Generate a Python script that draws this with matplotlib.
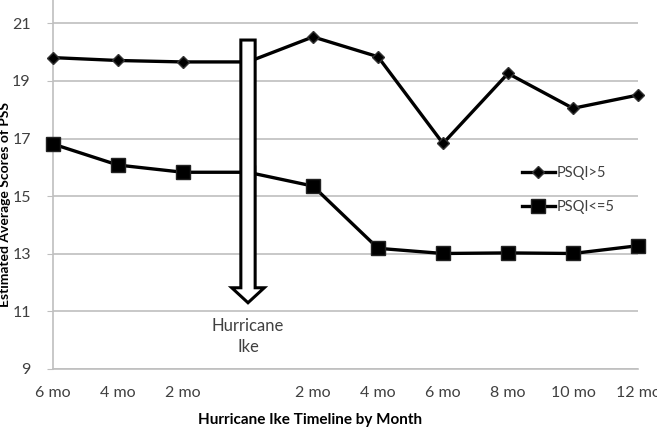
import matplotlib.pyplot as plt
import matplotlib.patches as mpatches
import numpy as np

plt.rcParams['font.family'] = ['Lato', 'DejaVu Sans']

# timeline categories (blank slot = hurricane landfall)
months = ["6 mo", "4 mo", "2 mo", "", "2 mo", "4 mo", "6 mo", "8 mo", "10 mo", "12 mo"]
psqi_high = [19.81, 19.71, 19.66, 19.66, 20.53, 19.84, 16.83, 19.26, 18.05, 18.51]
psqi_low = [16.81, 16.08, 15.83, 15.83, 15.35, 13.19, 13.01, 13.03, 13.01, 13.28]
yticks = [9, 11, 13, 15, 17, 19, 21]

grid_col = "#bfbfbf"
text_col = "#404040"

fig = plt.figure(figsize=(6.57, 4.32), dpi=100)
ax = fig.add_axes([53 / 657, 1 - 369 / 432, 585 / 657, 369 / 432])

x = np.arange(len(months))
ax.plot(x, psqi_high, color="black", lw=2.4, marker="D", markersize=6.5,
        markeredgecolor="#333333", label="PSQI>5", zorder=3, clip_on=False)
ax.plot(x, psqi_low, color="black", lw=2.4, marker="s", markersize=10,
        markeredgecolor="#222222", label="PSQI<=5", zorder=3, clip_on=False)

# big hollow arrow marking the hurricane
arrow = mpatches.FancyArrow(3, 20.42, 0, -9.12, width=0.22, head_width=0.5,
                            head_length=0.52, length_includes_head=True,
                            facecolor="white", edgecolor="black", lw=2.2, zorder=5)
ax.add_patch(arrow)
ax.text(3, 10.12, "Hurricane\nIke", ha="center", va="center", fontsize=12,
        color=text_col, linespacing=1.35)

ax.set_xlim(0, 9)
ax.set_ylim(9, 21.81)
ax.set_xticks(x)
ax.set_xticklabels(months, fontsize=11.5, color=text_col)
ax.set_yticks(yticks)
ax.set_yticklabels([str(v) for v in yticks], fontsize=11.5, color=text_col)
ax.tick_params(axis="x", length=0, pad=12)
ax.tick_params(axis="y", length=4, color=grid_col, pad=12)
ax.grid(axis="y", color=grid_col, lw=1.2)
ax.set_axisbelow(True)
for s in ["top", "right"]:
    ax.spines[s].set_visible(False)
for s in ["left", "bottom"]:
    ax.spines[s].set_color(grid_col)
    ax.spines[s].set_linewidth(1.2)

ax.set_ylabel("Estimated Average Scores of PSS", fontsize=10, fontweight="bold",
              color="black")
ax.yaxis.set_label_coords(-0.071, 0.447)
ax.set_xlabel("Hurricane Ike Timeline by Month", fontsize=11, fontweight="bold",
              color="black")
ax.xaxis.set_label_coords(0.44, -0.12)

ax.legend(loc="upper left", bbox_to_anchor=(0.78, 0.585), frameon=False,
          fontsize=10.5, handlelength=2.2, handletextpad=0.15, labelspacing=1.35,
          labelcolor=text_col)

fig.savefig("out.png", dpi=100)
